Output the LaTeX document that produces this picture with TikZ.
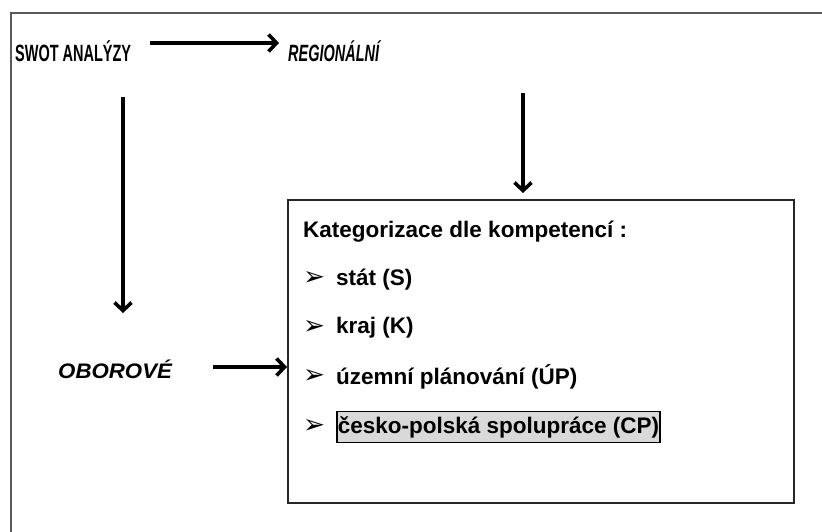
\documentclass[tikz,border=0pt]{standalone}
\usepackage{graphicx}
\usepackage{fontspec}
\setmainfont{Liberation Sans}
\newfontfamily\dejavu{DejaVu Sans}
\usetikzlibrary{arrows.meta}
\newcommand{\narrowtxt}[1]{\scalebox{0.69}[1.12]{#1}}
\begin{document}
\begin{tikzpicture}[x=1pt,y=-1pt,
  lbl/.style={font=\fontsize{21}{24}\selectfont\bfseries, inner sep=0pt, anchor=west},
  ilbl/.style={lbl, font=\fontsize{21}{24}\selectfont\bfseries\itshape},
  item/.style={font=\fontsize{22.5}{26}\selectfont\bfseries, inner sep=0pt, anchor=west},
  bul/.style={font=\fontsize{21}{24}\selectfont\dejavu, inner sep=0pt, anchor=west},
  arr/.style={line width=3.6pt, -{Straight Barb[length=8pt,width=17pt,line width=3.6pt]}},
  frame/.style={draw=black!65, line width=2.6pt}]
\useasboundingbox (0,0) rectangle (822,532);
\draw[frame] (11,560) -- (11,13) -- (850,13);
\node[draw=black!85, line width=1.6pt, minimum width=506pt, minimum height=303pt, inner sep=0pt, anchor=north west] (box) at (287,199) {};
\node[lbl] (swot) at (15,51) {\narrowtxt{SWOT ANALÝZY}};
\node[ilbl] (reg) at (288,51) {\narrowtxt{REGIONÁLNÍ}};
\node[ilbl] (obor) at (58,369) {\scalebox{1.06}[1]{OBOROVÉ}};
\coordinate (a1s) at (150,43);
\coordinate (a1e) at (279,43);
\draw[arr] (a1s) -- (a1e);
\coordinate (a2s) at (523,93);
\coordinate (a2e) at (523,193);
\draw[arr] (a2s) -- (a2e);
\coordinate (a3s) at (123,97);
\coordinate (a3e) at (123,313);
\draw[arr] (a3s) -- (a3e);
\coordinate (a4s) at (213,367);
\draw[arr] (a4s) -- (box.west |- a4s);
\node[item] (kat) at (303,232) {Kategorizace dle kompetencí :};
\node[bul] (b1) at (303,279) {\scalebox{1.25}{➢}};
\node[item] (i1) at (336,280) {stát (S)};
\node[bul] (b2) at (303,327) {\scalebox{1.25}{➢}};
\node[item] (i2) at (336,328) {kraj (K)};
\node[bul] (b3) at (303,376) {\scalebox{1.25}{➢}};
\node[item] (i3) at (336,377) {územní plánování (ÚP)};
\node[bul] (b4) at (303,426) {\scalebox{1.25}{➢}};
\node[item, fill=black!15, draw=black, line width=1.6pt, inner xsep=1pt, minimum height=31pt] (i4) at (336,427) {česko-polská spolupráce (CP)};
\end{tikzpicture}
\end{document}
